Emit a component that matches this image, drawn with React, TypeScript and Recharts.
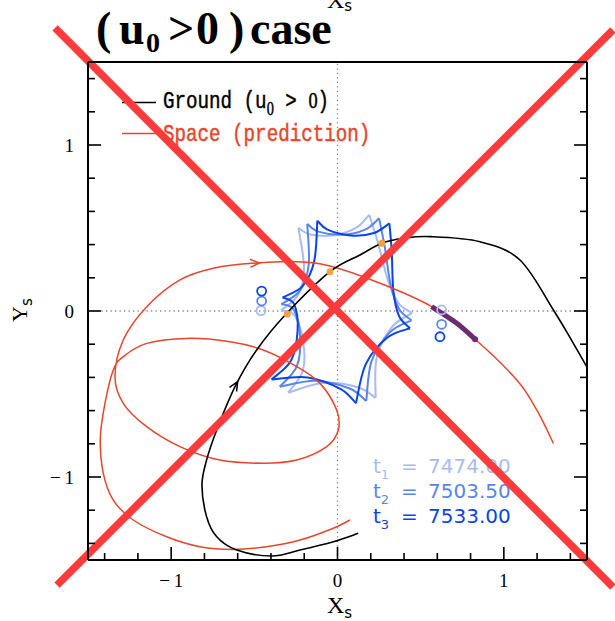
import React from "react";
import { ComposedChart, Line, Scatter, XAxis, YAxis, ReferenceLine } from "recharts";

type Pt = { x: number; y: number };
const toPts = (a: number[][]): Pt[] => a.map(([x, y]) => ({ x, y }));

// ground-based source trajectory (u0 > 0)
const GROUND = toPts([
  [0.125, -1.339], [-0.025, -1.39], [-0.225, -1.44], [-0.396, -1.476], [-0.606, -1.44],
  [-0.726, -1.36], [-0.787, -1.239], [-0.815, -1.05], [-0.787, -0.898], [-0.726, -0.717],
  [-0.616, -0.456], [-0.486, -0.235], [-0.305, -0.014], [-0.045, 0.237], [0.135, 0.337],
  [0.266, 0.408], [0.396, 0.438], [0.556, 0.448], [0.857, 0.417], [1.097, 0.307],
  [1.298, 0.006], [1.418, -0.195], [1.498, -0.335],
]);

// predicted trajectory as seen from the satellite
const SPACE = toPts([
  [0.075, -1.259], [-0.025, -1.309], [-0.225, -1.38], [-0.426, -1.42], [-0.627, -1.436],
  [-0.827, -1.42], [-1.027, -1.36], [-1.228, -1.259], [-1.348, -1.139], [-1.408, -0.978],
  [-1.426, -0.767], [-1.398, -0.556], [-1.348, -0.355], [-1.288, -0.275], [-1.147, -0.195],
  [-0.907, -0.165], [-0.646, -0.185], [-0.446, -0.235], [-0.245, -0.335], [-0.105, -0.436],
  [-0.005, -0.596], [0.005, -0.717], [-0.065, -0.817], [-0.245, -0.898], [-0.446, -0.917],
  [-0.707, -0.898], [-0.947, -0.817], [-1.147, -0.697], [-1.288, -0.556], [-1.338, -0.396],
  [-1.288, -0.175], [-1.147, 0.026], [-0.947, 0.187], [-0.747, 0.257], [-0.516, 0.287],
  [-0.245, 0.297], [-0.045, 0.271], [0.256, 0.167], [0.566, 0.026], [0.827, -0.17],
  [1.078, -0.416], [1.198, -0.596], [1.298, -0.797],
]);

// part of the space track covered by the satellite data
const SPACE_COVERED = toPts([[0.566, 0.026], [0.717, -0.074], [0.827, -0.17]]);
const SPACE_COVERED_END = toPts([[0.827, -0.17]]);

const GROUND_ARROW = toPts([[-0.6, -0.425]]);
const SPACE_ARROW = toPts([[-0.47, 0.289]]);

// source positions on the ground track at the caustic crossings
const CROSSINGS = toPts([[-0.302, -0.018], [-0.045, 0.237], [0.266, 0.408]]);

// source (open circles) at t1, t2, t3: ground side and space side
const SOURCE_T1 = toPts([[-0.46, 0.002], [0.626, 0.006]]);
const SOURCE_T2 = toPts([[-0.456, 0.06], [0.626, -0.08]]);
const SOURCE_T3 = toPts([[-0.456, 0.12], [0.616, -0.155]]);

// resonant caustic at each epoch, walked around from the upper-left cusp
const CAUSTIC_T1 = [
  [-0.235, 0.501], [-0.164, 0.461], [-0.02, 0.457], [0.114, 0.502], [0.191, 0.579],
  [0.241, 0.418], [0.303, 0.186], [0.368, 0.046], [0.449, -0.012], [0.328, -0.096],
  [0.236, -0.28], [0.229, -0.523], [0.122, -0.459], [-0.089, -0.434], [-0.297, -0.492],
  [-0.208, -0.358], [-0.208, -0.173], [-0.262, -0.022], [-0.339, 0.004], [-0.237, 0.097],
  [-0.201, 0.258],
];
const CAUSTIC_T2 = [
  [-0.182, 0.525], [-0.115, 0.478], [0.028, 0.459], [0.166, 0.49], [0.25, 0.558],
  [0.283, 0.392], [0.32, 0.155], [0.371, 0.01], [0.445, -0.056], [0.316, -0.127],
  [0.205, -0.301], [0.173, -0.542], [0.073, -0.467], [-0.133, -0.42], [-0.347, -0.456],
  [-0.244, -0.332], [-0.225, -0.149], [-0.263, 0.008], [-0.337, 0.042], [-0.226, 0.123],
  [-0.173, 0.28],
];
const CAUSTIC_T3 = [
  [-0.121, 0.544], [-0.06, 0.49], [0.08, 0.455], [0.22, 0.47], [0.312, 0.528],
  [0.326, 0.36], [0.336, 0.12], [0.37, -0.03], [0.436, -0.104], [0.3, -0.16],
  [0.17, -0.32], [0.111, -0.556], [0.02, -0.47], [-0.18, -0.4], [-0.396, -0.412],
  [-0.28, -0.3], [-0.24, -0.12], [-0.26, 0.04], [-0.33, 0.082], [-0.21, 0.15],
  [-0.14, 0.3],
];
const CUSP_INDEX = [0, 4, 8, 11, 14, 18];

const EPOCHS = [
  { sub: "1", time: "7474.00", caustic: CAUSTIC_T1, source: SOURCE_T1 },
  { sub: "2", time: "7503.50", caustic: CAUSTIC_T2, source: SOURCE_T2 },
  { sub: "3", time: "7533.00", caustic: CAUSTIC_T3, source: SOURCE_T3 },
];
const EPOCH_COLORS = ["#a9bbf3", "#5b84ea", "#0a45e4"];

const TICKS = [-1.4, -1.2, -1, -0.8, -0.6, -0.4, -0.2, 0, 0.2, 0.4, 0.6, 0.8, 1, 1.2, 1.4];
const DOMAIN: [number, number] = [-1.5, 1.5];

// the big cross-out drawn over the whole panel
const CROSS_A = [{ x: -1.698, y: 1.705 }, { x: 1.656, y: -1.663 }];
const CROSS_B = [{ x: 1.656, y: 1.693 }, { x: -1.686, y: -1.651 }];

const W = 615;
const H = 621;
const RED = "#e8452c";
const CROSS_RED = "#fe3b3b";
const SERIF = "'Liberation Serif', 'Times New Roman', serif";
const SANS = "'DejaVu Sans', sans-serif";
const MONO = "'Liberation Mono', monospace";

// local Catmull-Rom spline: passes through every point and copes with loops
const catmullRom = (context: any) => {
  let pts: [number, number][] = [];
  return {
    areaStart() {},
    areaEnd() {},
    lineStart() {
      pts = [];
    },
    point(x: number, y: number) {
      pts.push([+x, +y]);
    },
    lineEnd() {
      if (!pts.length) return;
      context.moveTo(pts[0][0], pts[0][1]);
      for (let i = 0; i < pts.length - 1; i++) {
        const p0 = pts[i - 1] || pts[i];
        const p1 = pts[i];
        const p2 = pts[i + 1];
        const p3 = pts[i + 2] || p2;
        context.bezierCurveTo(
          p1[0] + (p2[0] - p0[0]) / 6,
          p1[1] + (p2[1] - p0[1]) / 6,
          p2[0] - (p3[0] - p1[0]) / 6,
          p2[1] - (p3[1] - p1[1]) / 6,
          p2[0],
          p2[1]
        );
      }
    },
  };
};

// split a closed caustic into cusp-to-cusp arcs so the cusps stay sharp
function causticArcs(loop: number[][]): Pt[][] {
  return CUSP_INDEX.map((c, i) => {
    const end = i + 1 < CUSP_INDEX.length ? CUSP_INDEX[i + 1] : loop.length;
    const seg = loop.slice(c, end + 1);
    if (end === loop.length) seg.push(loop[0]);
    return toPts(seg);
  });
}

// direction of travel along a track near a given point
function headingAt(path: Pt[], at: Pt) {
  let best = 0;
  let bd = Infinity;
  for (let i = 0; i < path.length - 1; i++) {
    const mx = (path[i].x + path[i + 1].x) / 2;
    const my = (path[i].y + path[i + 1].y) / 2;
    const d = (mx - at.x) ** 2 + (my - at.y) ** 2;
    if (d < bd) {
      bd = d;
      best = i;
    }
  }
  return Math.atan2(-(path[best + 1].y - path[best].y), path[best + 1].x - path[best].x);
}

function chevron(path: Pt[], color: string) {
  return (props: any) => {
    const { cx, cy, payload } = props;
    const a = headingAt(path, payload);
    const len = 10;
    const spread = 0.42;
    const p1 = [cx - len * Math.cos(a - spread), cy - len * Math.sin(a - spread)];
    const p2 = [cx - len * Math.cos(a + spread), cy - len * Math.sin(a + spread)];
    return (
      <path
        d={`M${p1[0]},${p1[1]} L${cx},${cy} L${p2[0]},${p2[1]}`}
        fill="none"
        stroke={color}
        strokeWidth={1.5}
      />
    );
  };
}

const ring = (color: string) => (props: any) =>
  <circle cx={props.cx} cy={props.cy} r={4.5} fill="none" stroke={color} strokeWidth={1.8} />;

const isMajor = (v: number) => Math.abs(v - Math.round(v)) < 1e-6;
const fmt = (v: number) => (v < 0 ? `\u2212\u2009${Math.abs(v)}` : `${v}`);
const TICK_TEXT = { fontFamily: SERIF, fontSize: 19, fill: "#000" };
const TICK_LINE = { stroke: "#000", strokeWidth: 1.6 };

function BottomTick({ x, y, payload }: any) {
  const major = isMajor(payload.value);
  return (
    <g>
      <line x1={x} x2={x} y1={y} y2={y - (major ? 13 : 7)} {...TICK_LINE} />
      {major && (
        <text x={x} y={y + 27} textAnchor="middle" {...TICK_TEXT}>
          {fmt(payload.value)}
        </text>
      )}
    </g>
  );
}

function TopTick({ x, y, payload }: any) {
  const major = isMajor(payload.value);
  return <line x1={x} x2={x} y1={y} y2={y + (major ? 13 : 7)} {...TICK_LINE} />;
}

function LeftTick({ x, y, payload }: any) {
  const major = isMajor(payload.value);
  return (
    <g>
      <line x1={x} x2={x + (major ? 13 : 7)} y1={y} y2={y} {...TICK_LINE} />
      {major && (
        <text x={x - 14} y={y + 7} textAnchor="end" {...TICK_TEXT}>
          {fmt(payload.value)}
        </text>
      )}
    </g>
  );
}

function RightTick({ x, y, payload }: any) {
  const major = isMajor(payload.value);
  return <line x1={x} x2={x - (major ? 13 : 7)} y1={y} y2={y} {...TICK_LINE} />;
}

const FRAME = { stroke: "#000", strokeWidth: 2 };

function Labels() {
  return (
    <svg width={W} height={H} style={{ position: "absolute", left: 0, top: 0 }}>
      <text fontFamily={SERIF} fontWeight="bold" fontSize={46} y={44} fill="#000">
        <tspan x={96}>(</tspan>
        <tspan x={119}>u</tspan>
        <tspan x={146} y={52} fontSize={28}>0</tspan>
        <tspan x={168} y={44}>&gt;</tspan>
        <tspan x={196}>0</tspan>
        <tspan x={229}>)</tspan>
        <tspan x={250}>case</tspan>
      </text>

      <text x={327} y={8} fontFamily={SERIF} fontSize={24}>
        X<tspan dy={3} fontFamily={SANS} fontSize={15}>s</tspan>
      </text>
      <text x={327} y={613} fontFamily={SERIF} fontSize={24}>
        X<tspan dy={5} fontFamily={SANS} fontSize={15}>s</tspan>
      </text>
      <text transform="translate(27,322) rotate(-90)" fontFamily={SERIF} fontSize={22}>
        Y<tspan dy={5} fontFamily={SANS} fontSize={15}>s</tspan>
      </text>

      <line x1={122} x2={156} y1={102.5} y2={102.5} stroke="#000" strokeWidth={1.5} />
      <g transform="translate(163,108) scale(0.8,1)">
        <text fontFamily={MONO} fontSize={24} fill="#000" stroke="#000" strokeWidth={0.45}>
          Ground (u
          <tspan dy={7} fontSize={18} fontFamily={SERIF}>0</tspan>
          <tspan dy={-7}> &gt; </tspan>
          <tspan fontFamily={SERIF} fontSize={23}>0</tspan>
          <tspan>)</tspan>
        </text>
      </g>
      <line x1={122} x2={158} y1={133.5} y2={133.5} stroke={RED} strokeWidth={1.5} />
      <g transform="translate(163,141) scale(0.8,1)">
        <text fontFamily={MONO} fontSize={24} fill={RED} stroke={RED} strokeWidth={0.45}>
          Space (prediction)
        </text>
      </g>

      {EPOCHS.map((e, i) => (
        <text key={e.sub} y={473 + i * 25} fontFamily={SANS} fontSize={20} fill={EPOCH_COLORS[i]}>
          <tspan x={373}>t</tspan>
          <tspan dy={6} fontSize={13}>{e.sub}</tspan>
          <tspan x={401} dy={-6}>=</tspan>
          <tspan x={428}>{e.time}</tspan>
        </text>
      ))}
    </svg>
  );
}

export default function App() {
  return (
    <div style={{ position: "absolute", left: 0, top: 0, width: W, height: H, background: "#fff" }}>
      <Labels />
      <ComposedChart width={W} height={H} margin={{ top: 61, right: 27, bottom: 21, left: 28 }}>
        <XAxis
          dataKey="x"
          type="number"
          domain={DOMAIN}
          allowDataOverflow
          ticks={TICKS}
          interval={0}
          tickSize={0}
          tickMargin={0}
          tick={BottomTick}
          axisLine={FRAME}
          height={40}
        />
        <XAxis
          xAxisId="top"
          orientation="top"
          type="number"
          domain={DOMAIN}
          allowDataOverflow
          ticks={TICKS}
          interval={0}
          tickSize={0}
          tickMargin={0}
          tick={TopTick}
          axisLine={FRAME}
          height={1}
        />
        <YAxis
          dataKey="y"
          type="number"
          domain={DOMAIN}
          allowDataOverflow
          ticks={TICKS}
          interval={0}
          tickSize={0}
          tickMargin={0}
          tick={LeftTick}
          axisLine={FRAME}
          width={60}
        />
        <YAxis
          yAxisId="right"
          orientation="right"
          type="number"
          domain={DOMAIN}
          allowDataOverflow
          ticks={TICKS}
          interval={0}
          tickSize={0}
          tickMargin={0}
          tick={RightTick}
          axisLine={FRAME}
          width={1}
        />

        <ReferenceLine x={0} stroke="#8a8a8a" strokeWidth={1.3} strokeDasharray="1.3 3.2" />
        <ReferenceLine y={0} stroke="#8a8a8a" strokeWidth={1.3} strokeDasharray="1.3 3.2" />

        {EPOCHS.flatMap((e, i) =>
          causticArcs(e.caustic).map((arc, j) => (
            <Line
              key={`c${i}-${j}`}
              data={arc}
              dataKey="y"
              type={catmullRom as any}
              stroke={EPOCH_COLORS[i]}
              strokeWidth={2}
              dot={false}
              activeDot={false}
              isAnimationActive={false}
            />
          ))
        )}

        <Line data={SPACE} dataKey="y" type={catmullRom as any} stroke={RED} strokeWidth={1.5} dot={false} activeDot={false} isAnimationActive={false} />
        <Line data={GROUND} dataKey="y" type={catmullRom as any} stroke="#000" strokeWidth={1.6} dot={false} activeDot={false} isAnimationActive={false} />
        <Line data={SPACE_COVERED} dataKey="y" type={catmullRom as any} stroke="#6e2a6e" strokeWidth={5} dot={false} activeDot={false} isAnimationActive={false} />
        <Scatter data={SPACE_COVERED_END} dataKey="y" shape={(p: any) => <circle cx={p.cx} cy={p.cy} r={3} fill="#6e2a6e" />} isAnimationActive={false} />

        <Scatter data={CROSSINGS} dataKey="y" shape={(p: any) => <circle cx={p.cx} cy={p.cy} r={3.5} fill="#f5a23c" />} isAnimationActive={false} />
        {EPOCHS.map((e, i) => (
          <Scatter key={`s${i}`} data={e.source} dataKey="y" shape={ring(EPOCH_COLORS[i])} isAnimationActive={false} />
        ))}
        <Scatter data={GROUND_ARROW} dataKey="y" shape={chevron(GROUND, "#000")} isAnimationActive={false} />
        <Scatter data={SPACE_ARROW} dataKey="y" shape={chevron(SPACE, RED)} isAnimationActive={false} />

        <ReferenceLine segment={CROSS_A} stroke={CROSS_RED} strokeWidth={7.5} ifOverflow="visible" />
        <ReferenceLine segment={CROSS_B} stroke={CROSS_RED} strokeWidth={7.5} ifOverflow="visible" />
      </ComposedChart>
    </div>
  );
}
